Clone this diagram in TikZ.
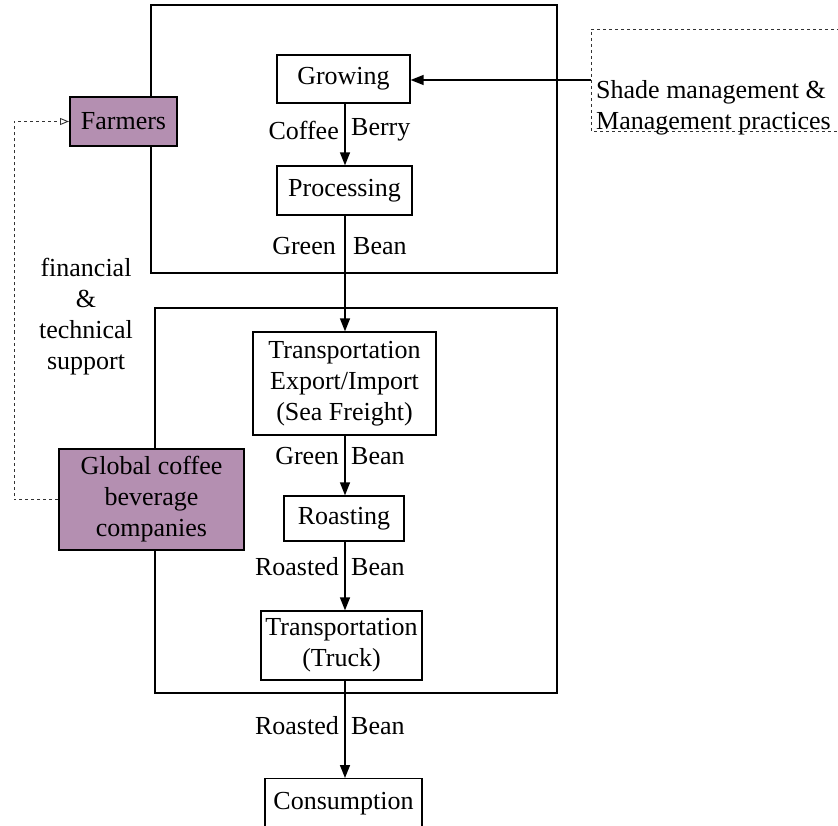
\documentclass[tikz,border=0pt]{standalone}
\usepackage{fontspec}
\setmainfont{Liberation Serif}
\usetikzlibrary{arrows.meta}
\tikzset{
  fnt/.style={font=\fontsize{26}{31}\selectfont},
  stepbox/.style={draw, line width=1.3pt, fill=white, inner sep=0pt, align=center, fnt},
  actorbox/.style={draw, line width=2pt, fill=purplefill, inner sep=0pt, align=center, fnt},
  frame/.style={draw, line width=1.6pt},
  flow/.style={line width=1.5pt, -{Triangle[length=13pt,width=10pt]}},
  lbl/.style={fnt, inner sep=0pt},
  dashline/.style={line width=0.9pt, dash pattern=on 3pt off 3pt, draw=black!80},
}
\definecolor{purplefill}{HTML}{B48FB1}
\begin{document}
\begin{tikzpicture}[x=1pt,y=-1pt]
\useasboundingbox (0,0) rectangle (838,826);
\clip (0,0) rectangle (838,826);
% frames
\draw[frame] (151,5) rectangle (557,273);
\draw[frame] (155,308) rectangle (557,693);
% nodes
\node[stepbox, minimum width=133pt, minimum height=48pt] (grow) at (343.5,79) {Growing};
\node[stepbox, minimum width=135pt, minimum height=49pt] (proc) at (344.5,190.5) {Processing};
\node[stepbox, minimum width=183pt, minimum height=103pt] (tex) at (344.5,383.5) {Transportation\\Export/Import\\(Sea Freight)};
\node[stepbox, minimum width=120pt, minimum height=45pt] (roast) at (344,518.5) {Roasting};
\node[stepbox, minimum width=161pt, minimum height=69pt] (truck) at (341.5,645.5) {Transportation\\(Truck)};
\node[stepbox, minimum width=157pt, minimum height=0pt, text height=31pt, text depth=30pt, anchor=north] (cons) at (343.5,778) {Consumption};
\node[actorbox, minimum width=107pt, minimum height=49pt] (farm) at (123.5,121.5) {Farmers};
\node[actorbox, minimum width=185pt, minimum height=101pt] (glob) at (151.5,499.5) {Global coffee\\beverage\\companies};
% shade box
\draw[dashline] (900,29) -- (591,29) -- (591,131) -- (900,131);
\node[lbl, anchor=west, align=left] (shade) at (596,108) {Shade management \&\\Management practices};
\coordinate (shadeL) at (591,80);
% flows
\draw[flow] (shadeL) -- (grow.east |- shadeL);
\draw[flow] (grow.south -| 345,0) -- (proc.north -| 345,0);
\draw[flow] (proc.south -| 345,0) -- (tex.north -| 345,0);
\draw[flow] (tex.south -| 345,0) -- (roast.north -| 345,0);
\draw[flow] (roast.south -| 345,0) -- (truck.north -| 345,0);
\draw[flow] (truck.south -| 345,0) -- (cons.north -| 345,0);
% labels
\node[lbl, anchor=east] (l1a) at (339,130) {Coffee};
\node[lbl, anchor=west] (l1b) at (351,130) {Berry};
\node[lbl, anchor=east] (l2a) at (336,246) {Green};
\node[lbl, anchor=west] (l2b) at (353,246) {Bean};
\node[lbl, anchor=east] (l3a) at (339,456) {Green};
\node[lbl, anchor=west] (l3b) at (351,456) {Bean};
\node[lbl, anchor=east] (l4a) at (339,567) {Roasted};
\node[lbl, anchor=west] (l4b) at (351,567) {Bean};
\node[lbl, anchor=east] (l5a) at (339,726) {Roasted};
\node[lbl, anchor=west] (l5b) at (351,726) {Bean};
% support
\node[lbl, align=center] (supp) at (86,317) {financial\\\&\\technical\\support};
\draw[dashline, -{Triangle[open, length=9pt, width=7pt]}] (glob.west) -- (14,499.5) -- (14,121.5) -- (farm.west);
\end{tikzpicture}
\end{document}
